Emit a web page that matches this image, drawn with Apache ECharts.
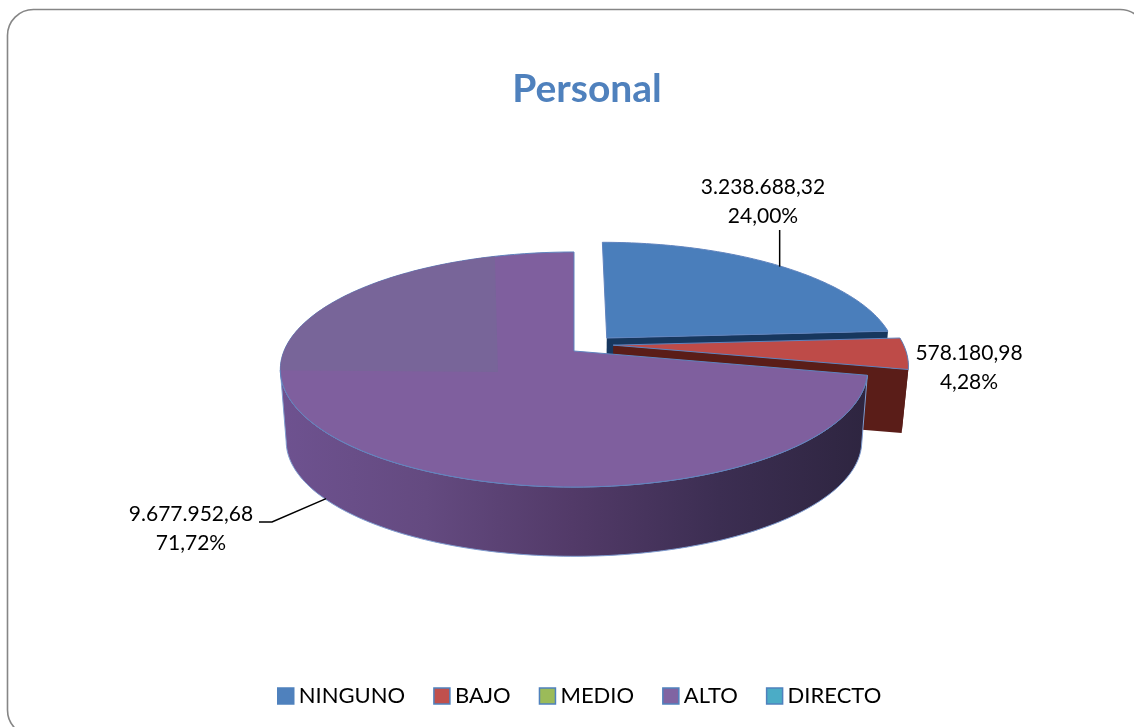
<!DOCTYPE html>
<html>
<head>
<meta charset="utf-8">
<style>html,body{margin:0;padding:0;background:#fff}#c{width:1134px;height:727px}</style>
<script src="https://cdn.jsdelivr.net/npm/echarts@6/dist/echarts.min.js"></script>
</head>
<body>
<div id="c"></div>
<script>
const titleText = 'Personal';
const categories = ['NINGUNO', 'BAJO', 'MEDIO', 'ALTO', 'DIRECTO'];
const seriesValues = [3238688.32, 578180.98, 0, 9677952.68, 0];

const legendColors = ['#4F81BD', '#C0504D', '#9BBB59', '#8064A2', '#4BACC6'];
const topColors = ['#4A7EBB', '#BE4B48', null, '#7F5F9E', null];
const wallColors = ['#17375E', '#5A1D18', null, null, null];
const FONT = 'Lato, "Open Sans", sans-serif';

// 3D projection of the pie
const P = { cx: 574, cy: 351, R: 290, S: 114.6, k: 0.1575, wallScale: 0.98 };
const wallDrops = [72, 64, 72, 72, 72];
// explosion of each slice in unit-circle space, plus picture nudge
const explode = [[0.115, -0.115, 0], [0.135, 0.01, -7], null, [0, 0, 0], null];
// label placement
const labelAt = [[763, 202], [969, 368], null, [191, 529], null];

const total = seriesValues.reduce((a, b) => a + b, 0);
const starts = [];
seriesValues.reduce((acc, v, i) => { starts[i] = acc; return acc + v; }, 0);

function project(X, Y, slice) {
  const e = explode[slice] || [0, 0, 0];
  const x = X + e[0], y = Y + e[1];
  const d = 1 - P.k * y;
  return [P.cx + P.R * x / d, P.cy + e[2] + P.S * y / d];
}
function drop(p, slice) {
  return [P.cx + (p[0] - P.cx) * P.wallScale, P.cy + (p[1] - P.cy) * P.wallScale + wallDrops[slice]];
}
function rim(a0, a1, slice) {
  const pts = [];
  const n = Math.max(2, Math.ceil((a1 - a0) / 0.02));
  for (let i = 0; i <= n; i++) {
    const a = a0 + (a1 - a0) * i / n;
    pts.push(project(Math.sin(a), -Math.cos(a), slice));
  }
  return pts;
}
function fmt(v) {
  const s = v.toFixed(2).split('.');
  return s[0].replace(/\B(?=(\d{3})+$)/g, '.') + ',' + s[1];
}
function pct(v) { return (v / total * 100).toFixed(2).replace('.', ',') + '%'; }

function polygon(points, fill, stroke, z2) {
  return { type: 'polygon', z2: z2 || 0, shape: { points }, style: { fill, stroke: stroke || null, lineWidth: stroke ? 1 : 0 } };
}

function renderSlice(slice) {
  return function (params, api) {
    const v = api.value(0);
    if (!v) return { type: 'group', children: [] };
    const a0 = starts[slice] / total * 2 * Math.PI;
    const a1 = (starts[slice] + v) / total * 2 * Math.PI;
    const apex = project(0, 0, slice);
    const top = rim(a0, a1, slice);
    const children = [];
    const edge = '#5F83BE';
    let wallFill = wallColors[slice];
    if (slice === 3) {
      wallFill = {
        type: 'linear', global: true, x: 279, y: 0, x2: 866, y2: 0,
        colorStops: [
          { offset: 0, color: '#6E5290' }, { offset: 0.25, color: '#644A80' },
          { offset: 0.5, color: '#523A68' }, { offset: 0.75, color: '#3C2E52' },
          { offset: 1, color: '#2E2540' }
        ]
      };
    }
    // outer wall: only the front part of the rim, up to the leftmost silhouette point
    if (slice !== 0) {
      let end = top.length;
      if (slice === 3) {
        let best = 0;
        top.forEach((p, i) => { if (p[0] < top[best][0]) best = i; });
        end = best + 1;
      }
      const front = top.slice(0, end);
      const frontBottom = front.map(p => drop(p, slice));
      children.push(polygon(front.concat(frontBottom.reverse()), wallFill, slice === 3 ? '#7F9CD0' : null));
    }
    // radial wall seen from the front
    if (slice !== 3) {
      const tip = top[top.length - 1];
      children.push(polygon([apex, tip, drop(tip, slice), drop(apex, slice)], wallFill));
    }
    // top face
    children.push(polygon([apex].concat(top), topColors[slice], edge));
    // back-left lighter panel of the large slice
    if (slice === 3) {
      const bx = P.cx - 76, by = P.cy + 21;
      const panel = top.filter(p => p[0] <= bx && p[1] <= by);
      children.push(polygon([[bx, by]].concat(panel), '#786599'));
    }
    // leader lines
    const mid = (a0 + a1) / 2;
    const anchor = project(Math.sin(mid), -Math.cos(mid), slice);
    if (slice === 0) {
      children.push({ type: 'polyline', shape: { points: [[anchor[0] + 1, anchor[1] + 1], [anchor[0] + 1, 230]] }, style: { stroke: '#000', lineWidth: 1.5, fill: null } });
    }
    if (slice === 3) {
      const b = drop(anchor, slice);
      children.push({ type: 'polyline', shape: { points: [[259, 522], [272, 522], [b[0] - 3, b[1] - 3]] }, style: { stroke: '#000', lineWidth: 1.5, fill: null } });
    }
    // value label
    const at = labelAt[slice];
    children.push({
      type: 'text', z2: 10,
      style: {
        x: at[0], y: at[1], text: fmt(v) + '\n' + pct(v),
        fill: '#000', font: '21px ' + FONT, align: 'center', verticalAlign: 'middle', lineHeight: 29
      }
    });
    return { type: 'group', children };
  };
}

const chart = echarts.init(document.getElementById('c'), null, { renderer: 'canvas' });
chart.setOption({
  animation: false,
  backgroundColor: '#fff',
  tooltip: { show: false },
  graphic: [{
    type: 'rect', z: -1,
    shape: { x: 7.5, y: 9.5, width: 1138.5, height: 726.5, r: 26 },
    style: { fill: '#fff', stroke: '#868686', lineWidth: 1.6 }
  }],
  title: {
    text: titleText, left: 582, top: 65, textAlign: 'center',
    textStyle: { color: '#4F81BD', fontFamily: FONT, fontWeight: 'bold', fontSize: 39 }
  },
  legend: {
    left: 277, top: 685, padding: 0, itemWidth: 16, itemHeight: 16, itemGap: 28,
    icon: 'rect', data: categories,
    itemStyle: { borderColor: '#4F81BD', borderWidth: 1.5 },
    textStyle: { color: '#000', fontFamily: FONT, fontSize: 22 }
  },
  series: categories.map((name, i) => ({
    type: 'custom', name, coordinateSystem: 'none', silent: true,
    itemStyle: { color: legendColors[i] },
    renderItem: renderSlice(i),
    data: [[seriesValues[i]]]
  }))
});
</script>
</body>
</html>
